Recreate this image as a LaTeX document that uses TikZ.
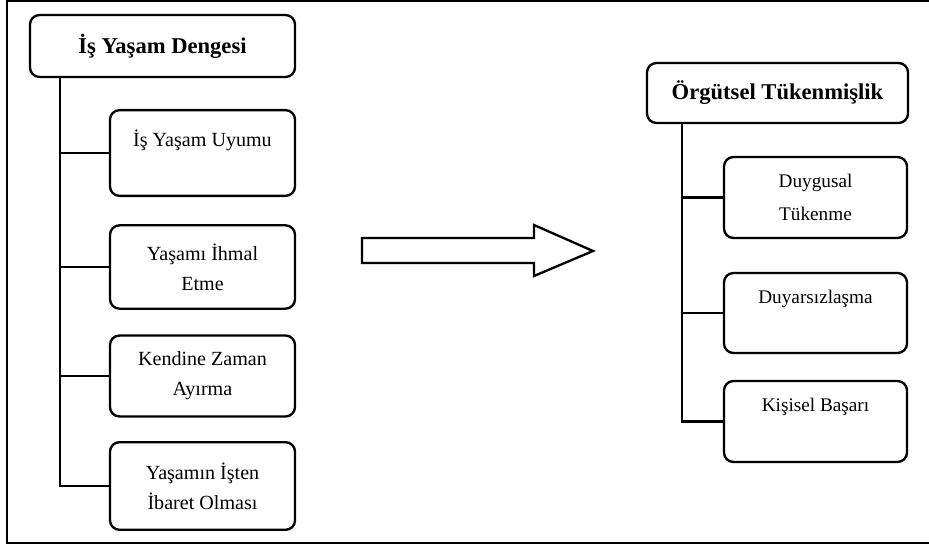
\documentclass[tikz,border=0pt]{standalone}
\usepackage{fontspec}
\setmainfont{Liberation Serif}
\begin{document}
\begin{tikzpicture}[
    x=0.021cm, y=-0.021cm,
    mainbox/.style={rectangle, draw, rounded corners=0.2cm, line width=1.4pt, inner sep=0pt, font=\fontsize{13.5}{16}\selectfont\bfseries},
    subbox/.style={rectangle, draw, rounded corners=0.2cm, line width=1.4pt, inner sep=0pt, align=center},
    link/.style={line width=1.4pt}
]
    \useasboundingbox (0,0) rectangle (929,550);
    \draw[line width=1pt] (929,1) -| (7,543) -- (929,543);

    % Is Yasam Dengesi
    \node[mainbox, minimum width=5.565cm, minimum height=1.3cm] (denge) at (162.5,46) {İş Yaşam Dengesi};
    \node[subbox, minimum width=3.885cm, minimum height=1.8cm, font=\fontsize{12}{17.9}\selectfont] (uyum) at (202.5,153) {İş Yaşam Uyumu\\ \mbox{}};
    \node[subbox, minimum width=3.885cm, minimum height=1.75cm, font=\fontsize{12}{17.9}\selectfont] (ihmal) at (202.5,267) {Yaşamı İhmal\\ Etme};
    \node[subbox, minimum width=3.885cm, minimum height=1.7cm, font=\fontsize{12}{17.9}\selectfont] (zaman) at (202.5,376) {Kendine Zaman\\ Ayırma};
    \node[subbox, minimum width=3.885cm, minimum height=1.84cm, font=\fontsize{12}{17.9}\selectfont] (ibaret) at (202.5,486) {Yaşamın İşten\\ İbaret Olması};

    \coordinate (dtrunk) at ([xshift=0.651cm]denge.south west);
    \foreach \n in {uyum, ihmal, zaman, ibaret}
        \draw[link] (dtrunk) |- (\n.west);

    % ok
    \draw[link] (362,238) -- (534,238) -- (534,225) -- (593,251) -- (534,276) -- (534,263) -- (362,263) -- cycle;

    % Orgutsel Tukenmislik
    \node[mainbox, minimum width=5.481cm, minimum height=1.26cm] (tuken) at (777.5,93) {Örgütsel Tükenmişlik};
    \node[subbox, minimum width=3.843cm, minimum height=1.7cm, font=\fontsize{11.5}{19.6}\selectfont] (duygusal) at (815.5,197.5) {Duygusal\\ Tükenme};
    \node[subbox, minimum width=3.843cm, minimum height=1.68cm, font=\fontsize{11.5}{19.6}\selectfont] (duyarsiz) at (815.5,313) {Duyarsızlaşma\\ \mbox{}};
    \node[subbox, minimum width=3.843cm, minimum height=1.7cm, font=\fontsize{11.5}{19.6}\selectfont] (basari) at (815.5,421.5) {Kişisel Başarı\\ \mbox{}};

    \coordinate (ttrunk) at ([xshift=0.756cm]tuken.south west);
    \foreach \n in {duygusal, duyarsiz, basari}
        \draw[link] (ttrunk) |- (\n.west);
\end{tikzpicture}
\end{document}
